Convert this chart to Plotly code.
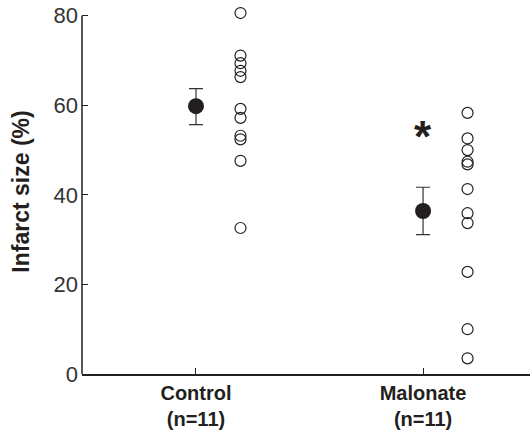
import plotly.graph_objects as go

groups = ["Control", "Malonate"]
group_labels = ["<b>Control</b><br><b>(n=11)</b>", "<b>Malonate</b><br><b>(n=11)</b>"]
control_vals = [80.6, 71.1, 69.4, 67.7, 66.3, 59.2, 57.2, 53.2, 52.4, 47.6, 32.6]
malonate_vals = [58.3, 52.6, 50.0, 47.4, 46.8, 41.3, 35.9, 33.7, 22.8, 10.0, 3.5]
means = [59.8, 36.4]
err_plus = [3.9, 5.3]
err_minus = [4.1, 5.3]
star_y = 54.8
y_ticks = [0, 20, 40, 60, 80]

x_pos = [1, 2]
offset = 0.196
y_top = 81.5

fig = go.Figure()
fig.add_trace(go.Scatter(
    x=[x_pos[0] + offset] * len(control_vals), y=control_vals, mode="markers",
    marker=dict(symbol="circle-open", size=11, color="#222", line=dict(width=1.2)),
    cliponaxis=False, showlegend=False))
fig.add_trace(go.Scatter(
    x=[x_pos[1] + offset] * len(malonate_vals), y=malonate_vals, mode="markers",
    marker=dict(symbol="circle-open", size=11, color="#222", line=dict(width=1.2)),
    cliponaxis=False, showlegend=False))
fig.add_trace(go.Scatter(
    x=x_pos, y=means, mode="markers",
    marker=dict(symbol="circle", size=16, color="#231f20"),
    error_y=dict(type="data", symmetric=False, array=err_plus, arrayminus=err_minus,
                 color="#333", thickness=1.2, width=7),
    cliponaxis=False, showlegend=False))
fig.add_annotation(x=x_pos[1], y=star_y, text="<b>*</b>", showarrow=False,
                   font=dict(size=44, color="#231f20", family="Liberation Sans"),
                   yshift=-8)
# y axis line from 0 to 80
fig.add_shape(type="line", xref="paper", yref="y", x0=0, x1=0, y0=0, y1=y_ticks[-1],
              line=dict(color="#231f20", width=1.5))

top_px = 16 - (y_top - 80) * 4.5
fig.update_layout(
    width=530, height=430,
    margin=dict(l=82, r=0, t=top_px, b=54),
    plot_bgcolor="white", paper_bgcolor="white",
    font=dict(family="Liberation Sans, Arial", color="#231f20"),
    xaxis=dict(range=[0.498, 2.471], tickvals=x_pos, ticktext=group_labels,
               showgrid=False, zeroline=False, showline=True, linecolor="#231f20",
               linewidth=1.5, ticks="inside", ticklen=6, tickcolor="#231f20",
               tickfont=dict(size=20, color="#231f20")),
    yaxis=dict(range=[0, y_top], tickvals=y_ticks,
               showgrid=False, zeroline=False, showline=False,
               ticks="inside", ticklen=6, tickcolor="#231f20", tickwidth=1.2,
               tickfont=dict(size=22, color="#333"), ticklabelstandoff=3,
               title=dict(text="<b>Infarct size (%)</b>", font=dict(size=23, color="#231f20"),
                          standoff=17)),
)
fig.write_html("out.html")
